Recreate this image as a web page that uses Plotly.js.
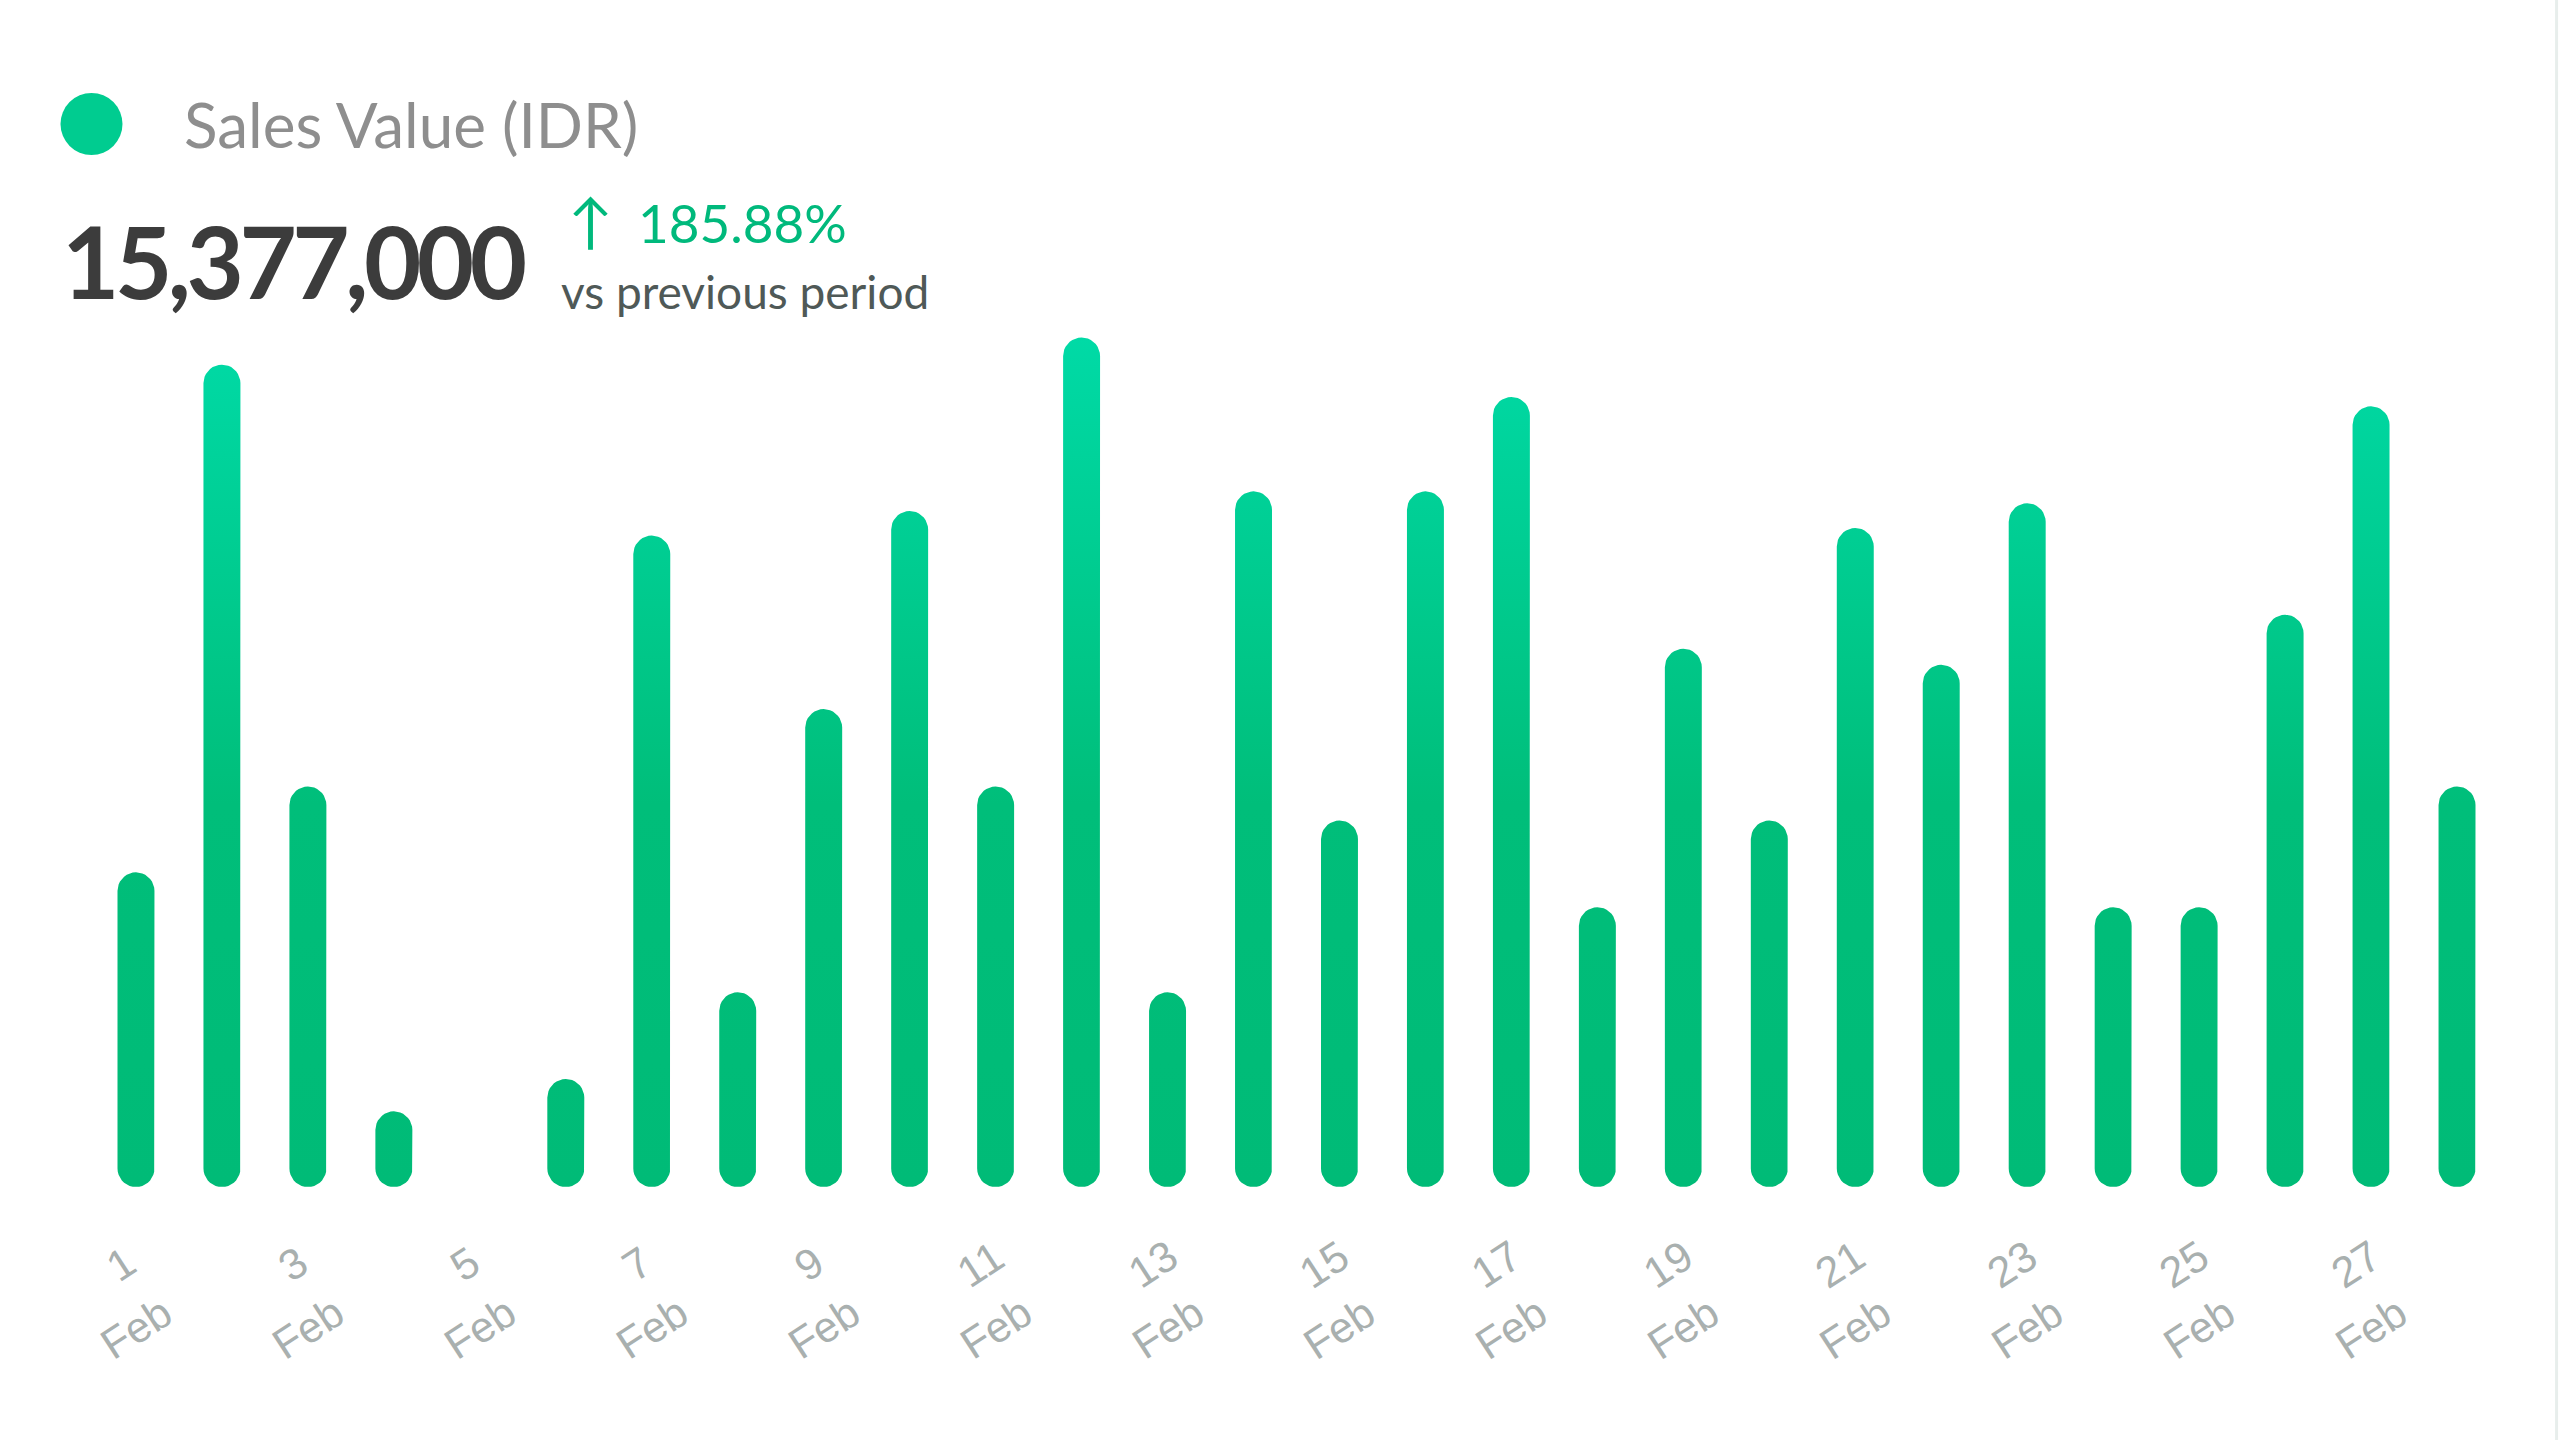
<!DOCTYPE html>
<html>
<head>
<meta charset="utf-8">
<script src="https://cdn.plot.ly/plotly-3.0.1.min.js"></script>
<style>
  html, body { margin: 0; padding: 0; background: #ffffff; }
  #chart { width: 2560px; height: 1440px; }
</style>
</head>
<body>
<div id="chart"></div>
<script>
// February days and daily sales (IDR)
const days = [1, 2, 3, 4, 5, 6, 7, 8, 9, 10, 11, 12, 13, 14,
              15, 16, 17, 18, 19, 20, 21, 22, 23, 24, 25, 26, 27, 28];
const sales = [370000, 967000, 471000, 89000, 0, 127000, 766000, 229000, 562000, 795000,
               471000, 999000, 229000, 818000, 431000, 818000, 929000, 329000, 633000, 431000,
               775000, 614000, 804000, 329000, 329000, 673000, 918000, 471000];
const monthLabel = 'Feb';
const labelDays = [1, 3, 5, 7, 9, 11, 13, 15, 17, 19, 21, 23, 25, 27];
const seriesName = 'Sales Value (IDR)';
const changePct = '185.88%';
const changeNote = 'vs previous period';

function drawChart() {
        const W = 2560, H = 1440;
        const margin = {l: 92.5, r: 59.5, t: 300, b: 253};
        const plotW = W - margin.l - margin.r;
        const plotH = H - margin.t - margin.b;
        const xRange = [0.5, 28.5];
        const yRange = [0, 1043000];

        // bar width as a share of one day, and the round cap in y units
        const halfW = 0.43 / 2;
        const capPx = halfW * plotW / (xRange[1] - xRange[0]);
        const capY = capPx * (yRange[1] - yRange[0]) / plotH;

        // every bar is a pill shape, one segment per day, split by nulls
        let xs = [], ys = [];
        const n = 18;
        for (let i = 0; i < days.length; i++) {
                const v = sales[i];
                if (v <= 0) continue;
                const r = Math.min(capY, v / 2);
                const cx = days[i];
                for (let k = 0; k <= n; k++) {
                        const a = Math.PI - Math.PI * k / n;
                        xs.push(cx + halfW * Math.cos(a));
                        ys.push(v - r + r * Math.sin(a));
                }
                for (let k = 0; k <= n; k++) {
                        const a = -Math.PI * k / n;
                        xs.push(cx + halfW * Math.cos(a));
                        ys.push(r + r * Math.sin(a));
                }
                xs.push(xs[xs.length - 2 * (n + 1)]);
                ys.push(ys[ys.length - 2 * (n + 1)]);
                xs.push(null);
                ys.push(null);
        }
        const maxVal = Math.max(...sales);

        let bars = {
                type: 'scatter',
                mode: 'lines',
                x: xs,
                y: ys,
                fill: 'toself',
                line: {width: 0, color: 'rgba(0,0,0,0)'},
                fillgradient: {
                        type: 'vertical',
                        start: 0,
                        stop: maxVal,
                        colorscale: [[0, '#00BB77'], [0.45, '#00BE7A'], [1, '#00DAA6']],
                },
                hoverinfo: 'skip',
                showlegend: false,
        };

        const total = sales.reduce((a, b) => a + b, 0).toLocaleString('en-US');

        // tick labels: day number above, month below, each tilted
        const tickFont = {family: 'Liberation Sans, Arial', size: 43, color: '#a9b0af'};
        let annotations = [];
        labelDays.forEach(d => {
                annotations.push({
                        x: d, xref: 'x', y: 0, yref: 'paper', yshift: -77, xshift: -15,
                        text: String(d), textangle: -33, showarrow: false,
                        xanchor: 'center', yanchor: 'middle', font: tickFont,
                });
                annotations.push({
                        x: d, xref: 'x', y: 0, yref: 'paper', yshift: -141,
                        text: monthLabel, textangle: -33, showarrow: false,
                        xanchor: 'center', yanchor: 'middle', font: tickFont,
                });
        });

        // header block
        annotations.push({
                x: 0, xref: 'paper', y: 1, yref: 'paper', xshift: 89, yshift: 176,
                text: seriesName, showarrow: false, xanchor: 'left', yanchor: 'middle',
                font: {family: 'Lato', size: 62, color: '#8e8e8e'},
        });
        annotations.push({
                x: 0, xref: 'paper', y: 1, yref: 'paper', xshift: -33, yshift: 40,
                text: '<span style="letter-spacing:-4.5px"><b>' + total + '</b></span>',
                showarrow: false, xanchor: 'left', yanchor: 'middle',
                font: {family: 'Lato', size: 99, color: '#3c3c3c'},
        });
        annotations.push({
                x: 0, xref: 'paper', y: 1, yref: 'paper', xshift: 497, yshift: 80,
                text: '↑', showarrow: false, xanchor: 'center', yanchor: 'middle',
                font: {family: 'Lato, DejaVu Sans', size: 60, color: '#00B97C'},
        });
        annotations.push({
                x: 0, xref: 'paper', y: 1, yref: 'paper', xshift: 543, yshift: 78,
                text: changePct, showarrow: false, xanchor: 'left', yanchor: 'middle',
                font: {family: 'Lato', size: 53, color: '#00B97C'},
        });
        annotations.push({
                x: 0, xref: 'paper', y: 1, yref: 'paper', xshift: 466, yshift: 9,
                text: changeNote, showarrow: false, xanchor: 'left', yanchor: 'middle',
                font: {family: 'Lato', size: 46, color: '#4f5957'},
        });

        let layout = {
                width: W,
                height: H,
                margin: margin,
                paper_bgcolor: '#ffffff',
                plot_bgcolor: '#ffffff',
                showlegend: false,
                xaxis: {
                        range: xRange,
                        showgrid: false,
                        zeroline: false,
                        showticklabels: false,
                        ticks: '',
                        fixedrange: true,
                },
                yaxis: {
                        range: yRange,
                        showgrid: false,
                        zeroline: false,
                        showticklabels: false,
                        ticks: '',
                        fixedrange: true,
                },
                annotations: annotations,
                shapes: [
                        // legend dot
                        {
                                type: 'circle', xref: 'paper', yref: 'paper',
                                xsizemode: 'pixel', ysizemode: 'pixel',
                                xanchor: 0, yanchor: 1,
                                x0: -32.5, x1: 29.5, y0: 145, y1: 207,
                                fillcolor: '#00CC90', line: {width: 0},
                        },
                        // faint card edge, its bottom falls just below the picture
                        {
                                type: 'rect', xref: 'paper', yref: 'paper',
                                x0: -0.045, x1: 1.0235, y0: -0.3, y1: 1.36,
                                fillcolor: 'rgba(0,0,0,0)', line: {width: 3, color: '#e8eeec'},
                                layer: 'below',
                        },
                ],
        };
        let config = {
                displayModeBar: false,
                staticPlot: true,
        };

        Plotly.newPlot(document.getElementById('chart'), [bars], layout, config);
}
drawChart();
</script>
</body>
</html>
